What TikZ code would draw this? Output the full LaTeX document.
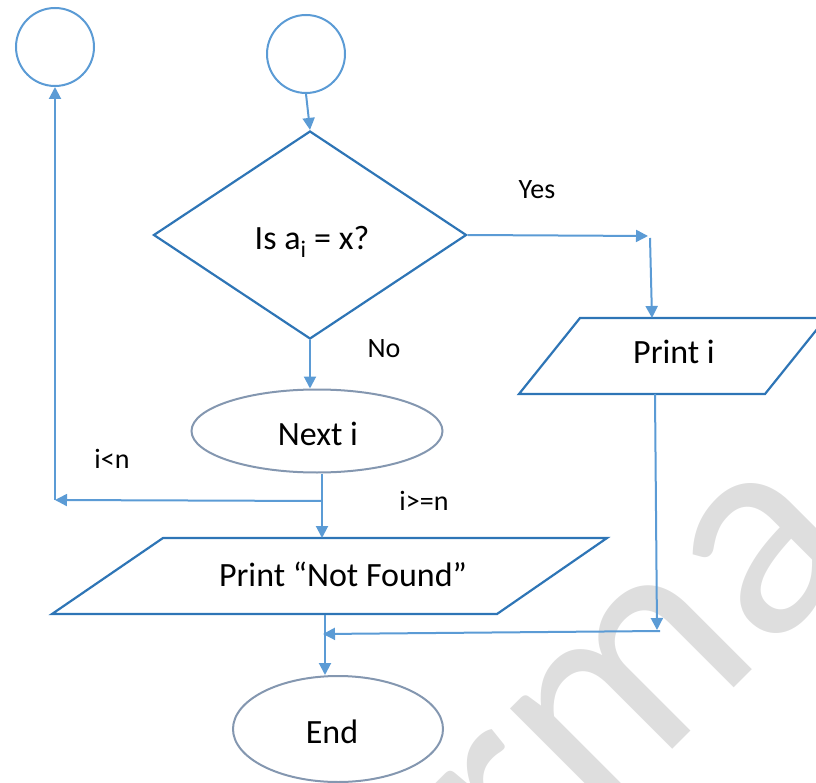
\documentclass[tikz,border=0pt]{standalone}
\usepackage{fontspec}
\setmainfont{Carlito}
\usetikzlibrary{shapes.geometric,arrows.meta}
\definecolor{shapeblue}{HTML}{2E75B6}
\definecolor{arrowblue}{HTML}{5B9BD5}
\definecolor{ovalgrey}{HTML}{8497B0}
\definecolor{wmgrey}{HTML}{DEDEDE}
\begin{document}
\begin{tikzpicture}[x=1pt,y=-1pt,
  conn/.style={draw=arrowblue,line width=2pt,-{Triangle[length=12pt,width=12pt]}},
  circ/.style={circle,draw=arrowblue,line width=2pt,minimum size=78pt,inner sep=0pt},
  dia/.style={diamond,draw=shapeblue,line width=2.2pt,minimum width=313pt,minimum height=208pt,inner sep=0pt},
  oval/.style={ellipse,draw=ovalgrey,line width=2pt,inner sep=0pt},
  para/.style={draw=shapeblue,line width=2.2pt,line join=miter},
  bigtxt/.style={font=\fontsize{34}{40}\selectfont,anchor=base,inner sep=0pt},
  lbl/.style={font=\fontsize{28}{34}\selectfont,anchor=base,inner sep=0pt},
]
\useasboundingbox (0,0) rectangle (816,783);
\begin{scope}
\clip (0,0) rectangle (816,783);
% watermark
\node[rotate=45, anchor=base east, text=wmgrey, font=\fontsize{300}{300}\selectfont, inner sep=0pt] (wm) at (868,554) {arma};
% shapes
\node[circ] (c1) at (55,47) {};
\node[circ] (c2) at (306,54) {};
\node[dia] (d) at (310,235) {};
\node[bigtxt] (dt) at (312,250) {Is a\textsubscript{i} = x?};
\node[oval,minimum width=251pt,minimum height=83pt] (nexti) at (317,431) {};
\node[bigtxt] (nt) at (318,445) {Next i};
\node[oval,minimum width=210pt,minimum height=106pt] (endn) at (338,729) {};
\node[bigtxt] (et) at (332,743) {End};
% Print i parallelogram
\coordinate (pi1) at (580,318);
\coordinate (pi2) at (826,318);
\coordinate (pi3) at (765,394);
\coordinate (pi4) at (519,394);
\draw[para] (pi1) -- (pi2) -- (pi3) -- (pi4) -- cycle;
\node[bigtxt] (pit) at (674,363) {Print i};
% Not Found parallelogram
\coordinate (nf1) at (163,538);
\coordinate (nf2) at (607,538);
\coordinate (nf3) at (497,614);
\coordinate (nf4) at (52,614);
\draw[para] (nf1) -- (nf2) -- (nf3) -- (nf4) -- cycle;
\node[bigtxt] (nft) at (343,586) {Print “Not Found”};
% connector points
\coordinate (yesend) at (648,236);
\coordinate (yesstart) at (650,238);
\coordinate (pitop) at (652,318);
\coordinate (pibot) at (655,394);
\coordinate (join) at (657,630);
\coordinate (joinr) at (660,631);
\coordinate (endjoin) at (323,634);
\coordinate (br) at (322,501);
\coordinate (nftop) at (322,538);
\coordinate (loopc) at (55,500);
\coordinate (nfbot) at (325,615);
% connectors
\draw[conn] (c2.south) -- (d.north);
\draw[conn] (d.east) -- (yesend);
\draw[conn] (yesstart) -- (pitop);
\draw[conn] (d.south) -- (d.south |- nexti.north);
\draw[conn] (br |- nexti.south) -- (nftop);
\draw[conn] (br) -- (loopc);
\draw[conn] (loopc) -- (c1.south);
\draw[conn] (pibot) -- (join);
\draw[conn] (joinr) -- (endjoin);
\draw[conn] (nfbot) -- (nfbot |- endn.north);
% labels
\node[lbl] (yes) at (537,199) {Yes};
\node[lbl] (no) at (384,357) {No};
\node[lbl] (lt) at (112,468) {i<n};
\node[lbl] (ge) at (424,510) {i>=n};
\end{scope}
\end{tikzpicture}
\end{document}
